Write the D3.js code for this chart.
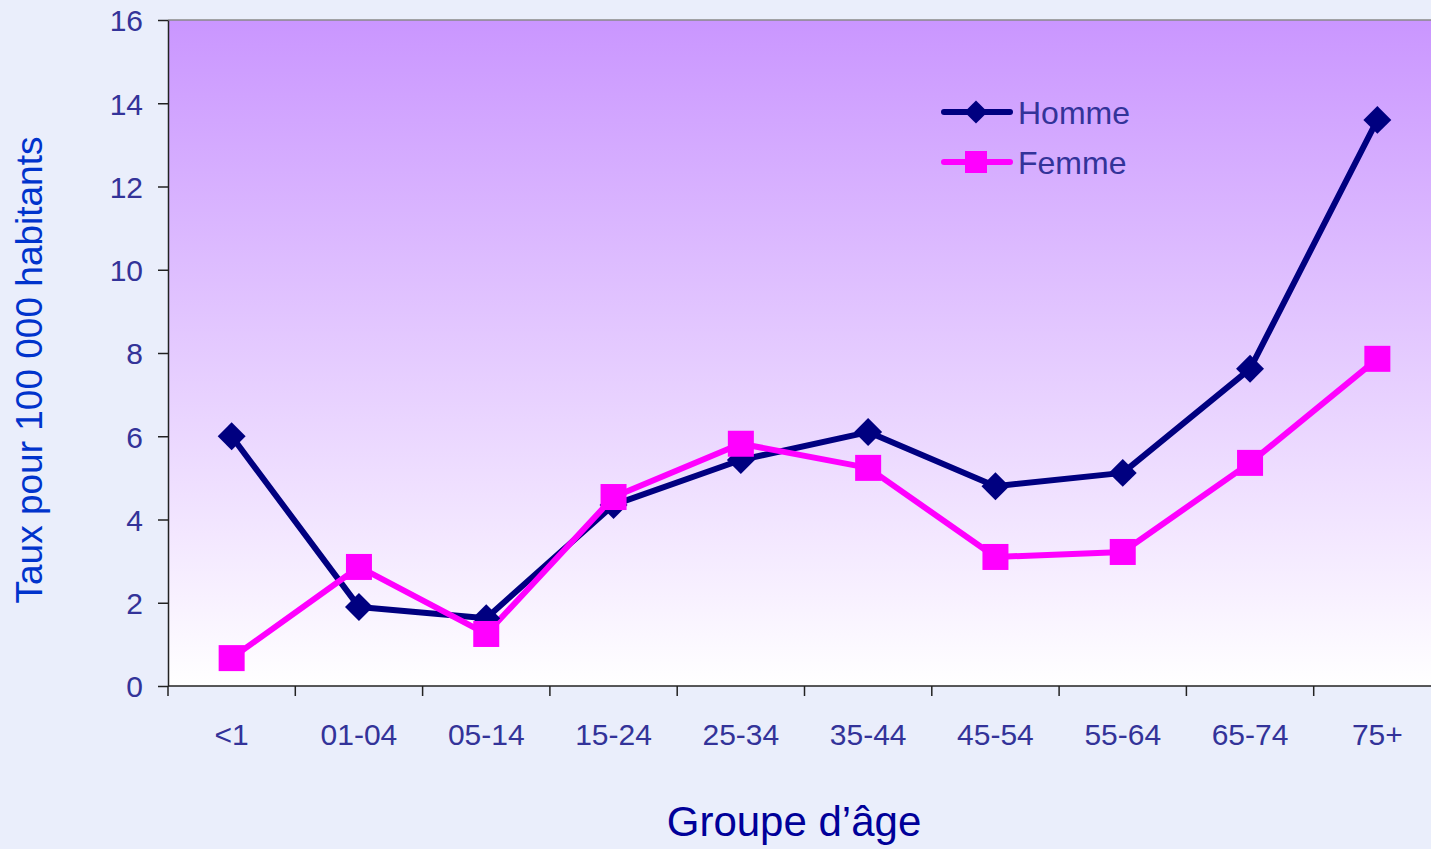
<!DOCTYPE html>
<html>
<head>
<meta charset="UTF-8">
<title>Taux par groupe d'âge</title>
<style>
  body { margin: 0; background: #EAEEFB; font-family: "Liberation Sans", Arial, sans-serif; }
  svg { display: block; }
  .tick text { fill: #333399; font-size: 30px; font-family: "Liberation Sans", Arial, sans-serif; }
  .tick line, .domain { stroke: #222; stroke-width: 1.5px; }
</style>
</head>
<body>
<script src="https://d3js.org/d3.v7.min.js"></script>
<script>
var groups = ["<1", "01-04", "05-14", "15-24", "25-34", "35-44", "45-54", "55-64", "65-74", "75+"];
var homme = [6.0, 1.9, 1.63, 4.35, 5.43, 6.1, 4.8, 5.12, 7.62, 13.6];
var femme = [0.67, 2.86, 1.25, 4.54, 5.82, 5.24, 3.1, 3.22, 5.36, 7.86];
var yTicks = [0, 2, 4, 6, 8, 10, 12, 14, 16];

var width = 1431, height = 849;
var plotLeft = 168, plotTop = 20, plotW = 1273, plotH = 666;

var svg = d3.select("body").append("svg")
    .attr("width", width)
    .attr("height", height);

var defs = svg.append("defs");
var grad = defs.append("linearGradient")
    .attr("id", "bg").attr("x1", 0).attr("y1", 0).attr("x2", 0).attr("y2", 1);
grad.append("stop").attr("offset", "0%").attr("stop-color", "#CA96FF");
grad.append("stop").attr("offset", "100%").attr("stop-color", "#FFFFFF");

var x = d3.scaleBand().domain(groups).range([plotLeft, plotLeft + plotW]);
var y = d3.scaleLinear().domain([0, 16]).range([plotTop + plotH, plotTop]);

svg.append("rect")
    .attr("x", plotLeft).attr("y", plotTop)
    .attr("width", plotW).attr("height", plotH)
    .attr("fill", "url(#bg)");

// top border
svg.append("line")
    .attr("x1", plotLeft).attr("x2", plotLeft + plotW)
    .attr("y1", plotTop).attr("y2", plotTop)
    .attr("stroke", "#888").attr("stroke-width", 1.5);

// y axis
var yAxis = svg.append("g")
    .attr("transform", "translate(" + plotLeft + ",0)")
    .call(d3.axisLeft(y).tickValues(yTicks).tickSize(10).tickPadding(15).tickSizeOuter(0));
yAxis.selectAll(".tick text").attr("dy", "0.36em");

// x axis with ticks between categories
var xAxis = svg.append("g")
    .attr("transform", "translate(0," + (plotTop + plotH) + ")");
xAxis.append("line")
    .attr("class", "domain")
    .attr("x1", plotLeft).attr("x2", plotLeft + plotW);
xAxis.selectAll(".sep")
    .data(groups)
    .enter().append("line")
    .attr("class", "sep")
    .attr("stroke", "#222").attr("stroke-width", 1.5)
    .attr("x1", function(d) { return x(d); })
    .attr("x2", function(d) { return x(d); })
    .attr("y1", 0).attr("y2", 10);
xAxis.selectAll(".lbl")
    .data(groups)
    .enter().append("text")
    .attr("class", "lbl")
    .attr("x", function(d) { return x(d) + x.bandwidth() / 2; })
    .attr("y", 59)
    .attr("text-anchor", "middle")
    .attr("fill", "#333399")
    .attr("font-size", 30)
    .text(function(d) { return d; });

var line = d3.line()
    .x(function(d, i) { return x(groups[i]) + x.bandwidth() / 2; })
    .y(function(d) { return y(d); });

svg.append("path").datum(homme)
    .attr("d", line).attr("fill", "none")
    .attr("stroke", "#000080").attr("stroke-width", 6)
    .attr("stroke-linejoin", "round");
svg.append("path").datum(femme)
    .attr("d", line).attr("fill", "none")
    .attr("stroke", "#FF00FF").attr("stroke-width", 6)
    .attr("stroke-linejoin", "round");

var diamond = d3.symbol().type(d3.symbolSquare).size(390);

svg.selectAll(".mh")
    .data(homme)
    .enter().append("path")
    .attr("class", "mh")
    .attr("d", diamond)
    .attr("fill", "#000080")
    .attr("transform", function(d, i) {
        return "translate(" + (x(groups[i]) + x.bandwidth() / 2) + "," + y(d) + ") rotate(45)";
    });

svg.selectAll(".mf")
    .data(femme)
    .enter().append("rect")
    .attr("class", "mf")
    .attr("x", function(d, i) { return x(groups[i]) + x.bandwidth() / 2 - 13; })
    .attr("y", function(d) { return y(d) - 13; })
    .attr("width", 26).attr("height", 26)
    .attr("fill", "#FF00FF");

// legend
var legend = [
    { name: "Homme", color: "#000080", shape: "diamond", yy: 112 },
    { name: "Femme", color: "#FF00FF", shape: "square", yy: 162 }
];
var lg = svg.selectAll(".lg").data(legend).enter().append("g")
    .attr("transform", function(d) { return "translate(942," + d.yy + ")"; });
lg.append("line")
    .attr("x1", 2).attr("x2", 68)
    .attr("stroke", function(d) { return d.color; })
    .attr("stroke-width", 6).attr("stroke-linecap", "round");
lg.append("path")
    .attr("d", function(d) {
        return d.shape === "diamond" ? d3.symbol().type(d3.symbolSquare).size(270)() : "M-11,-11H11V11H-11Z";
    })
    .attr("transform", function(d) { return "translate(34,0)" + (d.shape === "diamond" ? " rotate(45)" : ""); })
    .attr("fill", function(d) { return d.color; });
lg.append("text")
    .attr("x", 76).attr("dy", "0.36em")
    .attr("font-size", 32)
    .attr("fill", "#333399")
    .text(function(d) { return d.name; });

// axis titles
svg.append("text")
    .attr("transform", "translate(42,370) rotate(-90)")
    .attr("text-anchor", "middle")
    .attr("font-size", 37)
    .attr("fill", "#0033CC")
    .text("Taux pour 100 000 habitants");

svg.append("text")
    .attr("x", 794).attr("y", 836)
    .attr("text-anchor", "middle")
    .attr("font-size", 42)
    .attr("fill", "#000099")
    .text("Groupe d’âge");
</script>
</body>
</html>
